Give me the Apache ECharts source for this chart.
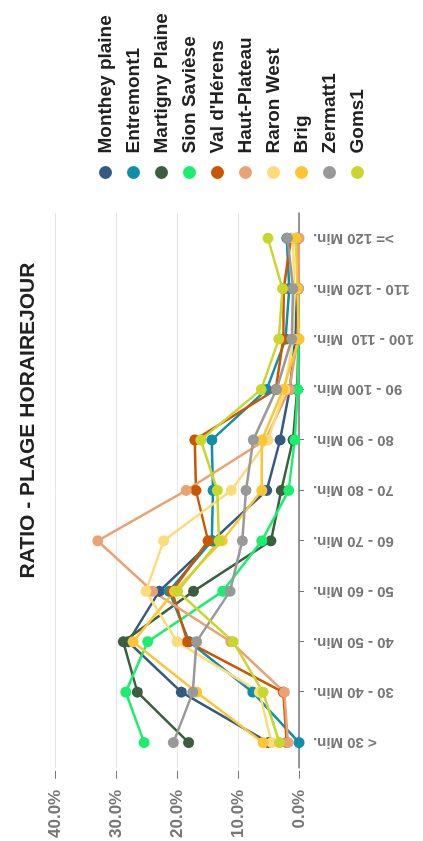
<!DOCTYPE html>
<html>
<head>
<meta charset="utf-8">
<script src="https://cdn.jsdelivr.net/npm/echarts@6/dist/echarts.min.js"></script>
<style>
  html, body { margin: 0; padding: 0; background: #fff; overflow: hidden; width: 423px; height: 841px; }
  #chart { position: absolute; left: 0; top: 0; width: 841px; height: 423px;
           transform-origin: 0 0; transform: translate(0, 841px) rotate(-90deg); }
</style>
</head>
<body>
<div id="chart"></div>
<script>
const categories = ["< 30 Min.", "30 - 40 Min.", "40 - 50 Min.", "50 - 60 Min.", "60 - 70 Min.", "70 - 80 Min.", "80 - 90 Min.", "90 - 100 Min.", "100 - 110  Min.", "110 - 120 Min.", ">= 120 Min."];

const seriesNames = ["Monthey plaine", "Entremont1", "Martigny Plaine", "Sion Savièse", "Val d'Hérens", "Haut-Plateau", "Raron West", "Brig", "Zermatt1", "Goms1"];

const montheyPlaine  = [5.0, 19.3, 28.0, 22.9, 14.2, 5.3, 3.1, 1.5, 0.6, 0.3, 0.2];
const entremont1     = [0.0, 7.6, 18.0, 21.3, 14.3, 14.1, 14.3, 5.3, 2.2, 1.6, 2.0];
const martignyPlaine = [18.1, 26.5, 28.8, 17.3, 4.6, 2.9, 1.0, 0.3, 0.1, 0.1, 0.1];
const sionSaviese    = [25.4, 28.4, 24.8, 12.5, 6.1, 1.7, 0.7, 0.2, 0.1, 0.1, 0.4];
const valDHerens     = [2.0, 2.6, 18.3, 20.8, 14.9, 16.9, 17.1, 3.8, 2.6, 2.5, 1.3];
const hautPlateau    = [1.8, 2.4, 11.2, 24.0, 33.0, 18.5, 5.5, 1.6, 0.2, 0.1, 0.0];
const raronWest      = [4.5, 6.5, 20.0, 25.1, 22.2, 11.1, 5.1, 2.3, 1.0, 0.8, 1.0];
const brig           = [5.9, 16.8, 27.2, 20.4, 12.6, 6.1, 6.1, 2.6, 0.0, 0.3, 0.5];
const zermatt1       = [20.6, 17.4, 16.8, 11.3, 9.3, 8.7, 7.5, 3.7, 1.2, 1.0, 1.9];
const goms1          = [3.2, 5.9, 10.8, 19.9, 13.1, 13.4, 16.1, 6.2, 3.3, 2.7, 5.1];

const valueTicks = [0, 10, 20, 30, 40];

const seriesData = [montheyPlaine, entremont1, martignyPlaine, sionSaviese, valDHerens, hautPlateau, raronWest, brig, zermatt1, goms1];
const colors = ['#345a82', '#0f8fa8', '#3b5e3e', '#1aee6e', '#cc5500', '#e9a272', '#fcdb7a', '#fdc630', '#999999', '#c8d62e'];

const FONT = 'Liberation Sans, Arial, sans-serif';
const chart = echarts.init(document.getElementById('chart'), null, { renderer: 'canvas' });

chart.setOption({
  animation: false,
  backgroundColor: '#fff',
  color: colors,
  title: {
    text: 'RATIO - PLAGE HORAIREJOUR',
    left: 'center',
    top: 13,
    textStyle: { fontFamily: FONT, fontSize: 21, fontWeight: 'bold', color: '#222' }
  },
  legend: {
    orient: 'vertical',
    left: 657,
    top: 91,
    icon: 'circle',
    itemWidth: 28,
    itemHeight: 13,
    itemGap: 9,
    data: seriesNames,
    textStyle: { fontFamily: FONT, fontSize: 19, fontWeight: 'bold', color: '#222', padding: 0 }
  },
  grid: { left: 73, right: 213, top: 55, bottom: 124, containLabel: false },
  xAxis: {
    type: 'category',
    data: categories,
    boundaryGap: true,
    axisLine: { show: true, lineStyle: { color: '#777', width: 1.5 } },
    axisTick: { show: true, alignWithLabel: true, length: 5, lineStyle: { color: '#777' } },
    axisLabel: { rotate: 90, margin: 14, interval: 0, fontFamily: FONT, fontSize: 15, fontWeight: 'bold', color: '#777' },
    splitLine: { show: false }
  },
  yAxis: {
    type: 'value',
    min: valueTicks[0],
    max: valueTicks[valueTicks.length - 1],
    interval: 10,
    offset: 3,
    axisLine: { show: false },
    axisTick: { show: true, length: 8, lineStyle: { color: '#777' } },
    axisLabel: { margin: 19, fontFamily: FONT, fontSize: 17, fontWeight: 'bold', color: '#777',
                 formatter: v => v.toFixed(1) + '%' },
    splitLine: { show: true, lineStyle: { color: '#e6e6e6', width: 1 } }
  },
  series: seriesNames.map((name, i) => ({
    name: name,
    type: 'line',
    data: seriesData[i],
    symbol: 'circle',
    symbolSize: 11,
    showSymbol: true,
    lineStyle: { width: 2.5, color: colors[i] },
    itemStyle: { color: colors[i] },
    emphasis: { disabled: true }
  }))
});
</script>
</body>
</html>
